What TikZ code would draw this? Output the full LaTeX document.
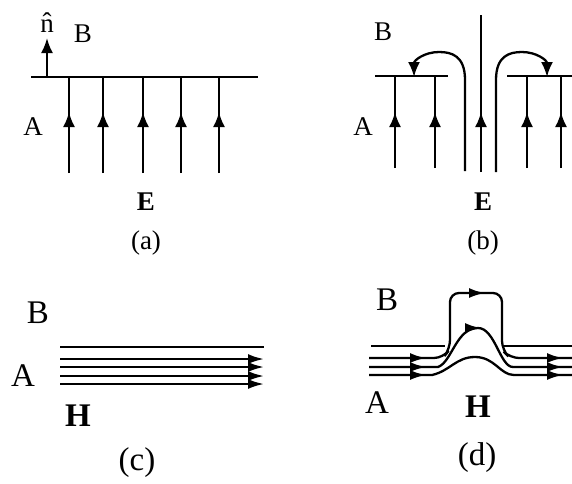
\documentclass[tikz,border=0pt]{standalone}
\usepackage{fontspec}
\setmainfont{Liberation Serif}
\usetikzlibrary{arrows.meta}

\begin{document}
\begin{tikzpicture}[x=1pt,y=-1pt,
    fieldline/.style={line width=2.3pt},
    plate/.style={line width=2.6pt},
    uptip/.style={-{Latex[length=15pt,width=12pt]}},
    htip/.style={-{Latex[length=16pt,width=10pt]}},
    lbl/.style={font=\fontsize{27}{31}\selectfont, inner sep=0pt},
    biglbl/.style={font=\fontsize{33}{38}\selectfont, inner sep=0pt}]
    \useasboundingbox (0,0) rectangle (572,483);

    % (a) E normal to a flat boundary
    \draw[plate] (31,77) -- (258,77);
    \draw[fieldline, uptip] (47,77) -- (47,38);
    \foreach \xa in {69,103,143,181,219} {
        \draw[fieldline] (\xa,173) -- (\xa,78);
        \draw[fieldline, uptip] (\xa,130) -- (\xa,112);
    }
    \node[lbl, anchor=base] (nhat) at (47,32) {\^{n}};
    \node[lbl] (Ba) at (83,34) {B};
    \node[lbl] (Aa) at (33,127) {A};
    \node[lbl] (Ea) at (146,202) {\textbf{E}};
    \node[lbl] (capa) at (146,243) {(a)};

    % (b) E at a slot in the boundary
    \draw[plate] (375,76) -- (448,76);
    \draw[plate] (507,76) -- (572,76);
    \foreach \xb in {395,435,527,561} {
        \draw[fieldline] (\xb,168) -- (\xb,77);
        \draw[fieldline, uptip] (\xb,130) -- (\xb,112);
    }
    \draw[fieldline] (481,172) -- (481,15);
    \draw[fieldline, uptip] (481,130) -- (481,112);
    \draw[fieldline, uptip] (465,171) -- (465,80)
        .. controls (465,56) and (452,52) .. (439,52)
        .. controls (425,52) and (414,60) .. (414,77);
    \draw[fieldline, uptip] (496,172) -- (496,80)
        .. controls (496,56) and (509,52) .. (522,52)
        .. controls (536,52) and (547,60) .. (547,77);
    \node[lbl] (Bb) at (383,32) {B};
    \node[lbl] (Ab) at (363,127) {A};
    \node[lbl] (Eb) at (483,202) {\textbf{E}};
    \node[lbl] (capb) at (483,243) {(b)};

    % (c) H parallel to a flat boundary
    \draw[plate] (60,347) -- (264,347);
    \foreach \yc in {359,367,376,384} {
        \draw[fieldline, htip] (60,\yc) -- (264,\yc);
    }
    \node[biglbl] (Bc) at (38,313) {B};
    \node[biglbl] (Ac) at (23,376) {A};
    \node[biglbl] (Hc) at (78,416) {\textbf{H}};
    \node[biglbl] (capc) at (137,463) {(c)};

    % (d) H at a bump in the boundary
    \draw[plate] (371,346) -- (445,346);
    \draw[plate] (503,346) -- (572,346);
    \draw[fieldline, rounded corners=9pt] (369,358) -- (443,358)
        -- (450,349) -- (450,293) -- (502,293)
        -- (502,350) -- (510,358) -- (572,358);
    \draw[fieldline] (369,367) -- (438,367)
        .. controls (452,362) and (456,328) .. (478,328)
        .. controls (495,328) and (500,367) .. (513,367) -- (572,367);
    \draw[fieldline] (369,375) -- (432,375)
        .. controls (450,371) and (456,357) .. (475,357)
        .. controls (495,357) and (500,375) .. (514,375) -- (572,375);
    \foreach \yd in {358,367,375} {
        \draw[fieldline, htip] (405,\yd) -- (426,\yd);
        \draw[fieldline, htip] (542,\yd) -- (563,\yd);
    }
    \draw[fieldline, htip] (468,293) -- (485,293);
    \draw[fieldline, htip] (470,328) -- (481,328);
    \node[biglbl] (Bd) at (387,300) {B};
    \node[biglbl] (Ad) at (377,403) {A};
    \node[biglbl] (Hd) at (478,407) {\textbf{H}};
    \node[biglbl] (capd) at (477,458) {(d)};
\end{tikzpicture}
\end{document}
